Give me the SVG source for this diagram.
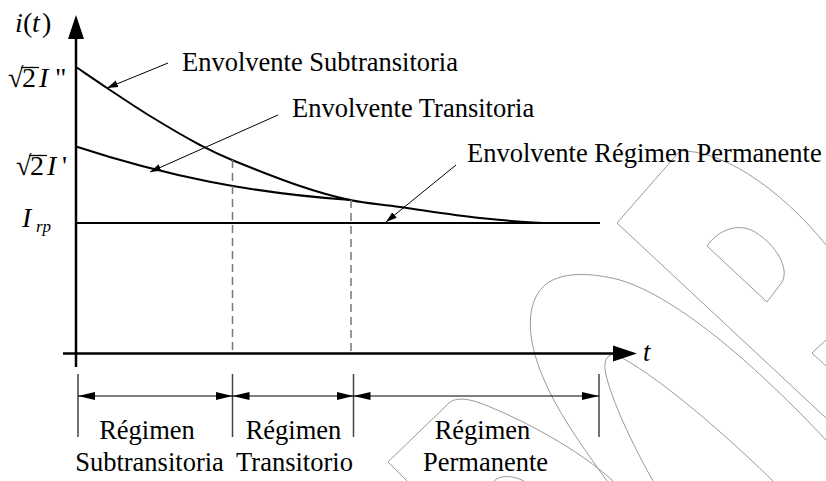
<svg xmlns="http://www.w3.org/2000/svg" width="826" height="481" viewBox="0 0 826 481">
<style>
text{font-family:"Liberation Serif","Times New Roman",serif;fill:#000}
.lbl{font-size:26.5px}
.big{font-size:28px}
.it{font-style:italic}
.wm{fill:none;stroke:#9a9a9a;stroke-width:1}
.curve{fill:none;stroke:#000;stroke-width:2}
.ax{stroke:#000;stroke-width:2.5;fill:none}
.lead{stroke:#000;stroke-width:1;fill:none;marker-end:url(#ah)}
.dash{stroke:#777;stroke-width:1.5;stroke-dasharray:8 5;fill:none}
.dim{stroke:#000;stroke-width:1.2;fill:none;marker-start:url(#dh);marker-end:url(#dh)}
.tick{stroke:#444;stroke-width:1.5}
</style>
<defs>
<marker id="ah" markerUnits="userSpaceOnUse" markerWidth="12" markerHeight="8" refX="11" refY="4" orient="auto"><path d="M0,0.5 L11,4 L0,7.5 Z" fill="#000"/></marker>
<marker id="dh" markerUnits="userSpaceOnUse" markerWidth="18" markerHeight="9" refX="17" refY="4.5" orient="auto-start-reverse"><path d="M0,0.5 L17,4.5 L0,8.5 Z" fill="#000"/></marker>
</defs>
<rect width="826" height="481" fill="#fff"/>

<g id="watermark">
<path class="wm" d="M826,245 C790,200 730,150 680,151 L617,223 L826,418"/>
<path class="wm" d="M707,246 C718,230 738,222 755,232 C775,244 790,268 782,282 L767,302 Z"/>
<path class="wm" d="M607,481 C585,450 555,410 540,370 C525,330 528,300 545,285 C560,272 590,272 620,280 C680,298 760,370 826,440"/>
<path class="wm" d="M653,481 C630,440 612,400 606,375 C603,362 606,355 614,354"/>
<path class="wm" d="M614,354 C640,365 700,410 773,481"/>
<path class="wm" d="M407,481 L388,462 L450,402 C456,398 466,398 480,403 C520,418 580,450 613,481"/>
<path class="wm" d="M494,481 C500,475 512,475 524,481"/>
<path class="wm" d="M826,340 L812,353 L826,366"/>
</g>

<g id="axes">
<line class="ax" x1="76" y1="37" x2="76" y2="367"/>
<polygon points="76,15 68,39 84,39" fill="#000"/>
<line class="ax" x1="63" y1="353.5" x2="615" y2="353.5"/>
<polygon points="637,353.5 613,345.5 613,361.5" fill="#000"/>
<text class="lbl it" x="643" y="361">t</text>
<text class="big" y="32"><tspan class="it" x="15">i</tspan><tspan x="23">(</tspan><tspan class="it" x="32">t</tspan><tspan x="42">)</tspan></text>
</g>

<g id="y-labels">
<text class="big" y="87"><tspan x="8">√</tspan><tspan x="22">2</tspan><tspan class="it" x="39">I</tspan><tspan x="55">"</tspan></text>
<line x1="21" y1="67.5" x2="39" y2="67.5" stroke="#000" stroke-width="1.3"/>
<text class="big" y="175"><tspan x="16">√</tspan><tspan x="30">2</tspan><tspan class="it" x="47">I</tspan><tspan x="62">'</tspan></text>
<line x1="29" y1="155.5" x2="47" y2="155.5" stroke="#000" stroke-width="1.3"/>
<text class="big it" x="22" y="227">I</text>
<text class="it" x="36" y="232" font-size="17">rp</text>
</g>

<g id="envelopes">
<path id="subtransitoria" class="curve" d="M76,67 C81.2,70.5 94.7,79.8 107,88 C119.3,96.2 134.5,106.5 150,116 C165.5,125.5 186.3,137.7 200,145 C213.7,152.3 215.3,153.2 232,160 C248.7,166.8 280.3,179.3 300,186 C319.7,192.7 333.3,196.5 350,200 C366.7,203.5 378.3,204 400,207 C421.7,210 454.5,215.3 480,218 C505.5,220.7 530,223 553,223"/>
<path id="transitoria" class="curve" d="M76,146.5 C166,176 251,193 351,200"/>
<line id="permanente" class="curve" x1="76" y1="223" x2="600" y2="223"/>
<line class="dash" x1="232.5" y1="160" x2="232.5" y2="353"/>
<line class="dash" x1="351" y1="200" x2="351" y2="353"/>
</g>

<g id="labels">
<text class="lbl" x="182" y="71">Envolvente Subtransitoria</text>
<text class="lbl" x="292" y="117">Envolvente Transitoria</text>
<text class="lbl" x="467" y="162">Envolvente Régimen Permanente</text>
</g>

<g id="connectors">
<line class="lead" x1="168" y1="63" x2="107" y2="88"/>
<line class="lead" x1="278" y1="115" x2="150" y2="172"/>
<line class="lead" x1="456" y1="165" x2="386" y2="222"/>
</g>

<g id="regions">
<line class="tick" x1="78" y1="374" x2="78" y2="437"/>
<line class="tick" x1="232.5" y1="374" x2="232.5" y2="437"/>
<line class="tick" x1="353.5" y1="374" x2="353.5" y2="437"/>
<line class="tick" x1="599" y1="374" x2="599" y2="437"/>
<line class="dim" x1="78" y1="396" x2="232.5" y2="396"/>
<line class="dim" x1="232.5" y1="396" x2="353.5" y2="396"/>
<line class="dim" x1="353.5" y1="396" x2="599" y2="396"/>
<g id="r1"><text class="lbl" x="147" y="439" text-anchor="middle">Régimen</text><text class="lbl" x="149.5" y="471" text-anchor="middle">Subtransitoria</text></g>
<g id="r2"><text class="lbl" x="293.5" y="439" text-anchor="middle">Régimen</text><text class="lbl" x="294.5" y="471" text-anchor="middle">Transitorio</text></g>
<g id="r3"><text class="lbl" x="482.5" y="439" text-anchor="middle">Régimen</text><text class="lbl" x="485.5" y="471" text-anchor="middle">Permanente</text></g>
</g>
</svg>
